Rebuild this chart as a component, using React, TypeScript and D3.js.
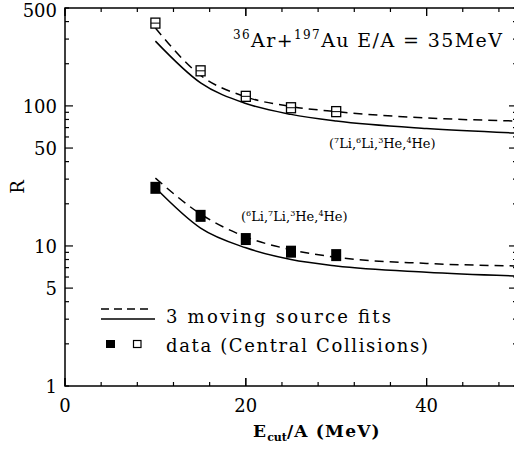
import React, { useEffect, useRef } from "react"
import * as d3 from "d3"

// beam energy cut (MeV/A)
const eCut = [10, 15, 20, 25, 30]
const dataUpper = [390, 178, 117, 97, 91]
const dataLower = [26, 16.4, 11.2, 9.1, 8.6]

const fitX = [10, 15, 20, 25, 30, 40, 50]
const dashUpper = [360, 165, 116, 99, 91, 82, 78]
const solidUpper = [290, 146, 104, 87, 78, 69, 64]
const dashLower = [30.5, 16.9, 11.6, 9.4, 8.3, 7.5, 7.2]
const solidLower = [26, 13.4, 9.7, 8.0, 7.2, 6.5, 6.1]

const yTickVals = [1, 5, 10, 50, 100, 500]
const xTickVals = [0, 20, 40]

const W = 514
const H = 449
const FONT = "DejaVu Serif"

const App = () => {
  const ref = useRef<SVGSVGElement>(null)

  useEffect(() => {
    const svg = d3.select(ref.current)
    svg.selectAll("*").remove()

    const x = d3.scaleLinear().domain([0, 50]).range([65, 517])
    const y = d3.scaleLog().domain([1, 500]).range([386, 8])

    const g = svg.append("g").attr("font-family", FONT)

    // frame
    g.append("rect")
      .attr("x", 65).attr("y", 8)
      .attr("width", 517 - 65).attr("height", 386 - 8)
      .attr("fill", "none").attr("stroke", "#000").attr("stroke-width", 1.5)

    // y ticks (log, inward on both sides)
    const minorY: number[] = []
    for (const dec of [1, 10, 100]) {
      for (let k = 1; k <= 9; k++) {
        const v = dec * k
        if (v > 500) continue
        minorY.push(v)
      }
    }
    minorY.forEach((v) => {
      const major = v === 10 || v === 100 || v === 50 || v === 5
      const len = major ? 8 : 4
      g.append("line").attr("x1", 65).attr("x2", 65 + len)
        .attr("y1", y(v)).attr("y2", y(v)).attr("stroke", "#000").attr("stroke-width", 1.2)
      g.append("line").attr("x1", 517).attr("x2", 517 - len)
        .attr("y1", y(v)).attr("y2", y(v)).attr("stroke", "#000").attr("stroke-width", 1.2)
    })

    // x ticks
    d3.range(0, 51, 4).concat(xTickVals).forEach((v) => {
      const major = v % 20 === 0
      const len = major ? 8 : 4
      g.append("line").attr("x1", x(v)).attr("x2", x(v))
        .attr("y1", 386).attr("y2", 386 - len).attr("stroke", "#000").attr("stroke-width", 1.2)
      g.append("line").attr("x1", x(v)).attr("x2", x(v))
        .attr("y1", 8).attr("y2", 8 + len).attr("stroke", "#000").attr("stroke-width", 1.2)
    })

    // tick labels
    g.selectAll(".ylab")
      .data(yTickVals)
      .join("text")
      .attr("x", 57)
      .attr("y", (d) => Math.max(y(d) + 7, 17))
      .attr("text-anchor", "end")
      .style("font-size", "18px")
      .text((d) => d)

    g.selectAll(".xlab")
      .data(xTickVals)
      .join("text")
      .attr("x", (d) => x(d))
      .attr("y", 412)
      .attr("text-anchor", "middle")
      .style("font-size", "18px")
      .text((d) => d)

    // axis titles
    const xt = g.append("text")
      .attr("x", 253).attr("y", 437)
      .style("font-size", "17px").style("font-weight", "bold")
      .style("letter-spacing", "1.2px")
    xt.append("tspan").text("E")
    xt.append("tspan").attr("dy", 4).style("font-size", "11px").style("letter-spacing", "0px").text("cut")
    xt.append("tspan").attr("dy", -4).text("/A (MeV)")

    g.append("text")
      .attr("transform", "translate(24,187) rotate(-90)")
      .attr("text-anchor", "middle")
      .style("font-size", "18px")
      .text("R")

    // fit curves
    const line = d3.line<number>()
      .x((_, i) => x(fitX[i]))
      .y((d) => y(d))
      .curve(d3.curveMonotoneX)

    ;[dashUpper, dashLower].forEach((s) => {
      g.append("path").attr("d", line(s)).attr("fill", "none")
        .attr("stroke", "#000").attr("stroke-width", 1.5).attr("stroke-dasharray", "9,6")
    })
    ;[solidUpper, solidLower].forEach((s) => {
      g.append("path").attr("d", line(s)).attr("fill", "none")
        .attr("stroke", "#000").attr("stroke-width", 1.5)
    })

    // data points
    g.selectAll(".open")
      .data(dataUpper)
      .join("rect")
      .attr("x", (_, i) => x(eCut[i]) - 4.5)
      .attr("y", (d) => y(d) - 5)
      .attr("width", 9).attr("height", 10)
      .attr("fill", "#fff").attr("stroke", "#000").attr("stroke-width", 1.3)
    g.selectAll(".openmid")
      .data(dataUpper)
      .join("line")
      .attr("x1", (_, i) => x(eCut[i]) - 4.5)
      .attr("x2", (_, i) => x(eCut[i]) + 4.5)
      .attr("y1", (d) => y(d))
      .attr("y2", (d) => y(d))
      .attr("stroke", "#000").attr("stroke-width", 1)

    g.selectAll(".filled")
      .data(dataLower)
      .join("rect")
      .attr("x", (_, i) => x(eCut[i]) - 5)
      .attr("y", (d) => y(d) - 6)
      .attr("width", 10).attr("height", 12)
      .attr("fill", "#000")

    // annotations
    const title = g.append("text")
      .attr("x", 233).attr("y", 47)
      .style("font-size", "19px")
      .style("letter-spacing", "1.4px")
    title.append("tspan").attr("dy", -8).style("font-size", "12px").text("36")
    title.append("tspan").attr("dy", 8).text("Ar+")
    title.append("tspan").attr("dy", -8).style("font-size", "12px").text("197")
    title.append("tspan").attr("dy", 8).text("Au E/A = 35MeV")

    const iso = (xp: number, yp: number, parts: [string, string][]) => {
      const t = g.append("text").attr("x", xp).attr("y", yp)
        .style("font-size", "13px")
      t.append("tspan").text("(")
      parts.forEach(([sup, el], i) => {
        t.append("tspan").attr("dy", -5).style("font-size", "8px").text(sup)
        t.append("tspan").attr("dy", 5).text(el + (i < parts.length - 1 ? "," : ")"))
      })
    }
    iso(329, 148, [["7", "Li"], ["6", "Li"], ["3", "He"], ["4", "He"]])
    iso(241, 221, [["6", "Li"], ["7", "Li"], ["3", "He"], ["4", "He"]])

    // legend
    g.append("line").attr("x1", 101).attr("x2", 153).attr("y1", 309).attr("y2", 309)
      .attr("stroke", "#000").attr("stroke-width", 1.5).attr("stroke-dasharray", "8,5")
    g.append("line").attr("x1", 101).attr("x2", 155).attr("y1", 319).attr("y2", 319)
      .attr("stroke", "#000").attr("stroke-width", 1.5)
    g.append("text").attr("x", 166).attr("y", 323)
      .style("font-size", "18px")
      .attr("textLength", 225).attr("lengthAdjust", "spacing")
      .text("3 moving source fits")
    g.append("rect").attr("x", 106).attr("y", 340).attr("width", 9).attr("height", 8).attr("fill", "#000")
    g.append("rect").attr("x", 133.5).attr("y", 340.5).attr("width", 7.5).attr("height", 7)
      .attr("fill", "#fff").attr("stroke", "#000").attr("stroke-width", 1.2)
    g.append("text").attr("x", 166).attr("y", 352)
      .style("font-size", "18px")
      .attr("textLength", 262).attr("lengthAdjust", "spacing")
      .text("data (Central Collisions)")
  }, [])

  return (
    <svg
      ref={ref}
      width={W}
      height={H}
      style={{ position: "absolute", left: 0, top: 0, background: "#fff" }}
    />
  )
}

export default App
